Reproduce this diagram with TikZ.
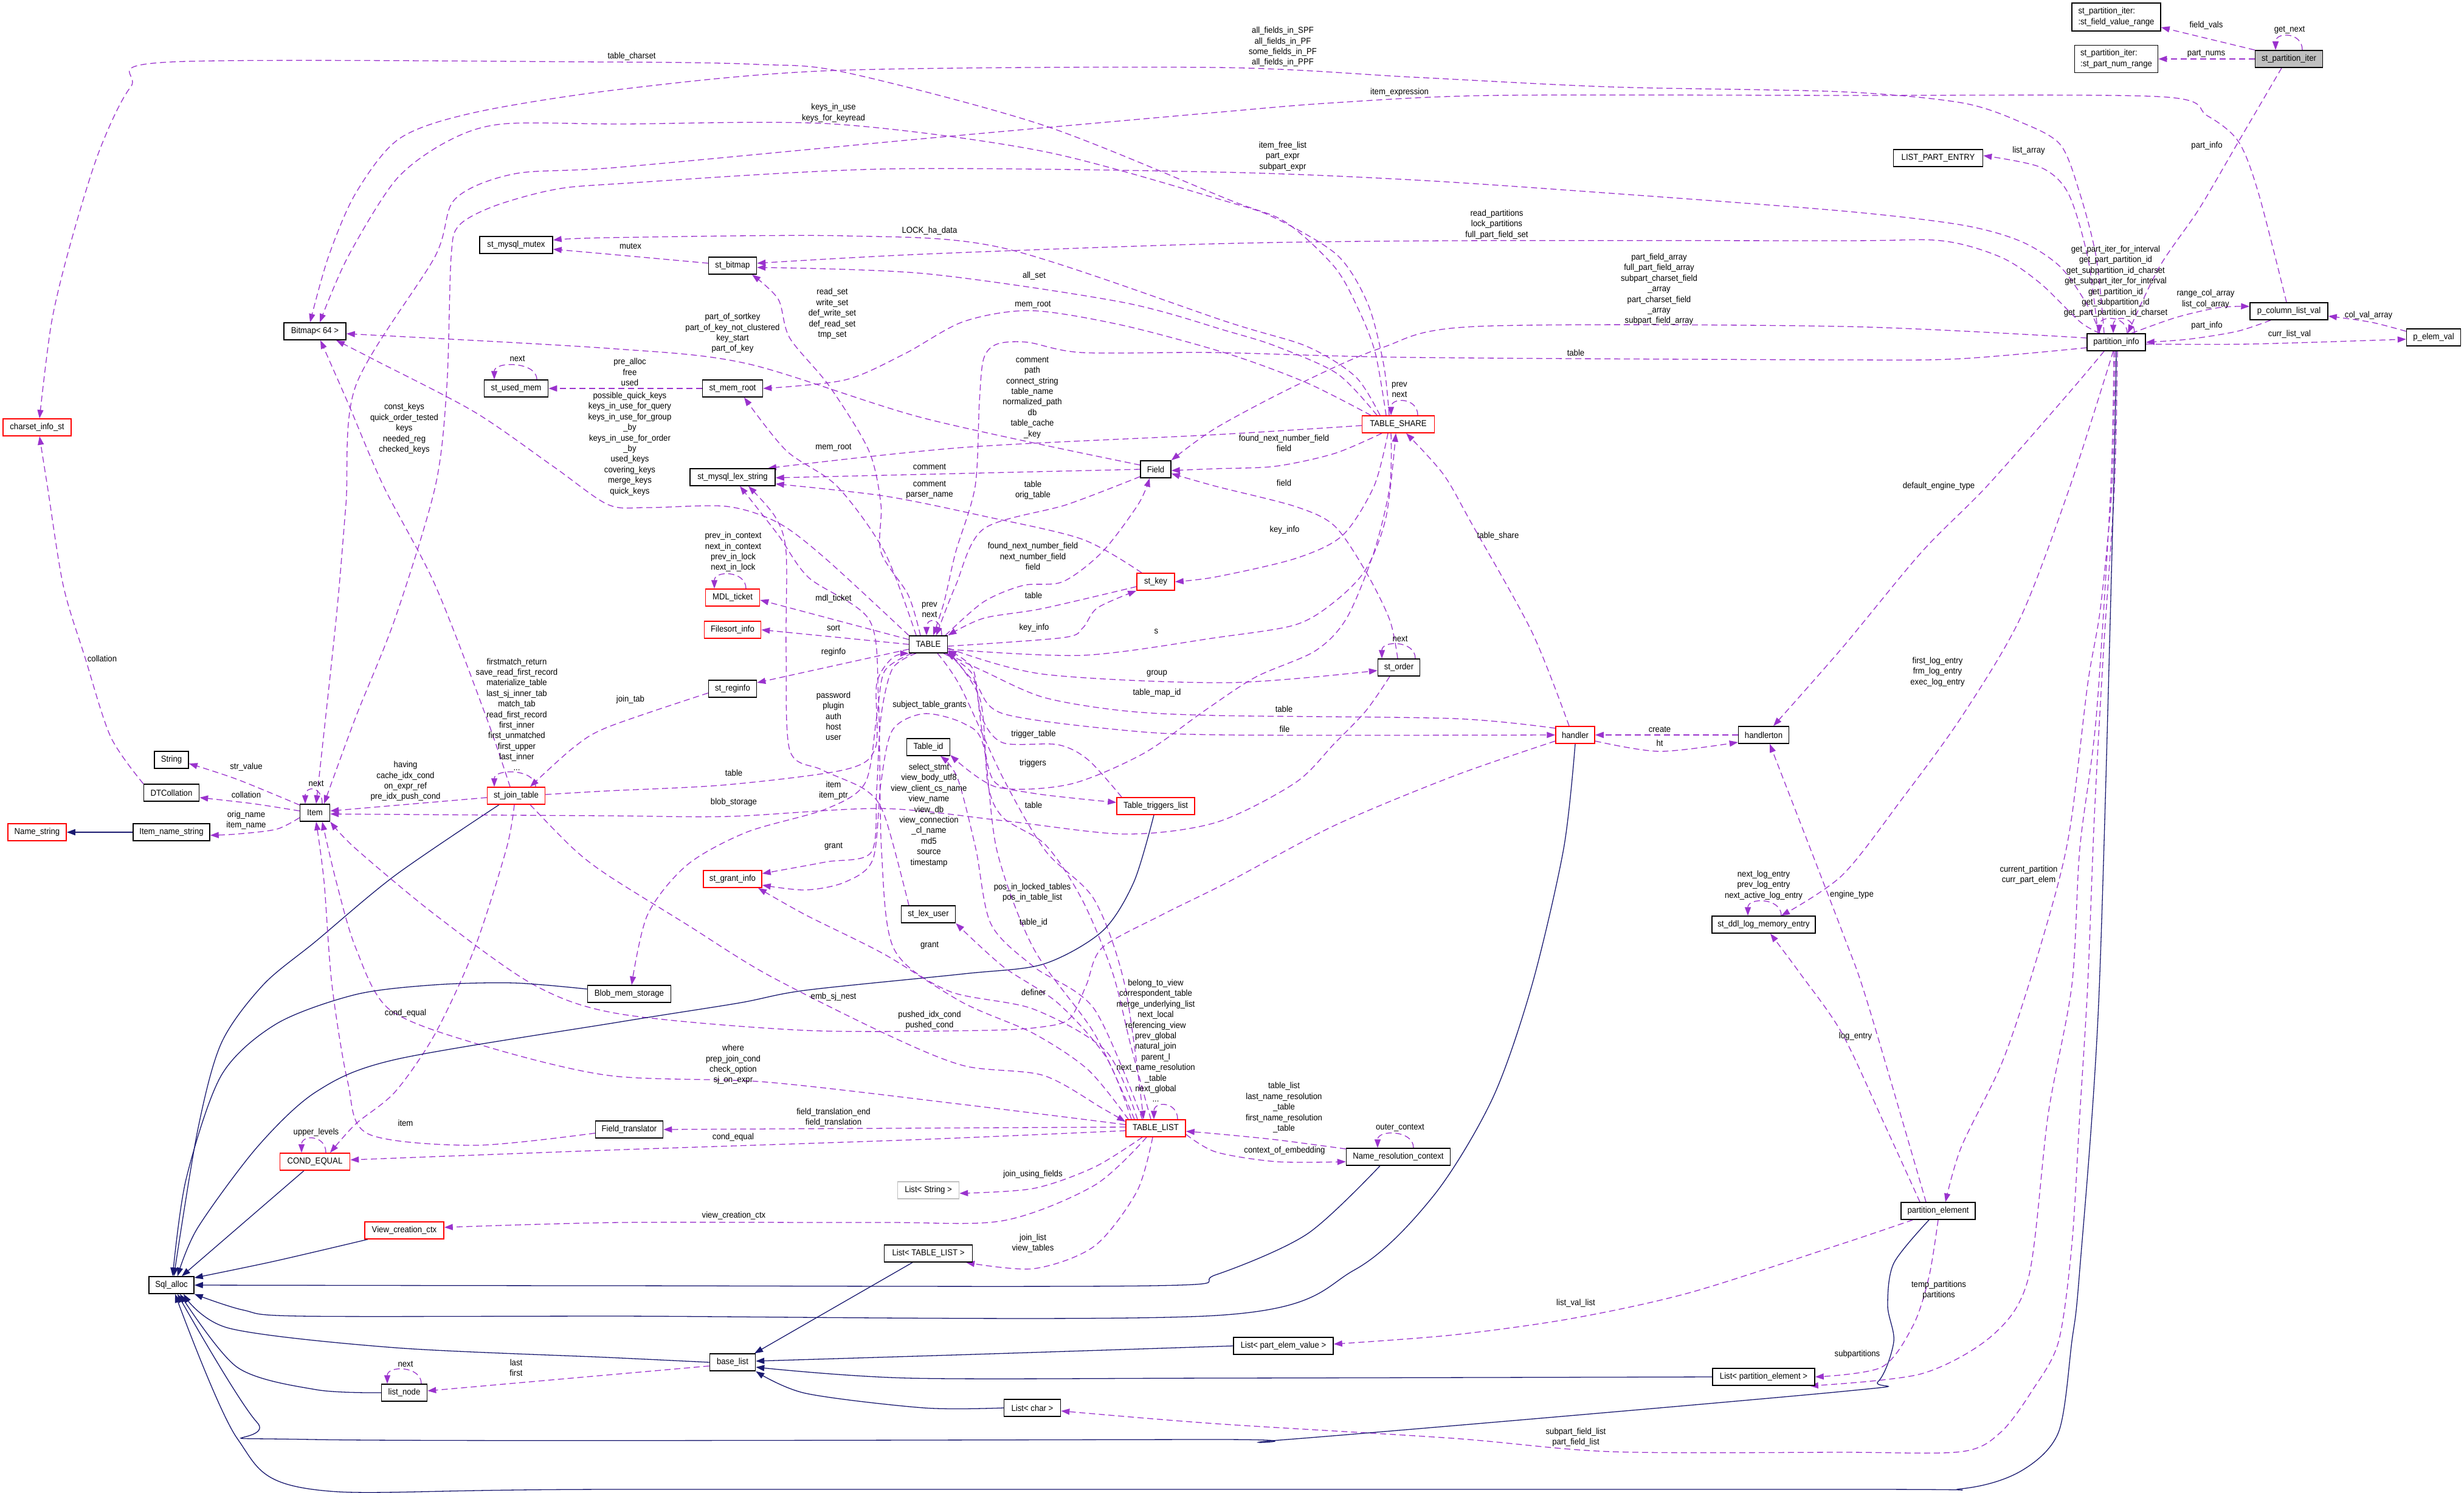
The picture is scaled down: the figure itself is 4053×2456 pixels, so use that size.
\documentclass[tikz,border=0pt]{standalone}
\usepackage{fontspec}
\setmainfont{Liberation Sans}[FakeStretch=0.92]
\usetikzlibrary{arrows.meta}
\definecolor{edgep}{HTML}{9A32CD}
\definecolor{edgen}{HTML}{191970}
\definecolor{boxgray}{HTML}{BFBFBF}
\pgfdeclarelayer{bg}
\pgfsetlayers{bg,main}
\newcommand\selfloopx[3]{\draw[dep] ([xshift=#2pt]#1.north) .. controls +(0,-30) and +(0,-30) .. ([xshift=#3pt]#1.north);}
\begin{document}
\begin{tikzpicture}[x=1pt,y=-1pt,
  font=\fontsize{14.3}{17.4}\selectfont,
  cls/.style={draw=black,line width=1.5pt,fill=white,minimum height=28pt,inner sep=1pt},
  redc/.style={cls,draw=red},
  lbl/.style={align=center,inner sep=0pt},
  dep/.style={draw=edgep,line width=1.3pt,dash pattern=on 10pt off 6pt,-{Triangle[length=14pt,width=10pt]}},
  inh/.style={draw=edgen,line width=1.3pt,-{Triangle[length=14pt,width=10pt]}}]
\useasboundingbox (0,0) rectangle (4053,2456);
% ---------------- nodes
\node[redc,minimum width=112pt] (charset) at (61,703) {charset\_info\_st};
\node[cls,minimum width=102pt] (bitmap) at (518,545) {Bitmap< 64 >};
\node[cls,minimum width=120pt] (mutex) at (849,403) {st\_mysql\_mutex};
\node[cls,minimum width=105pt] (usedmem) at (849,639) {st\_used\_mem};
\node[cls,minimum width=79pt] (stbitmap) at (1205,437) {st\_bitmap};
\node[cls,minimum width=99pt] (memroot) at (1205,639) {st\_mem\_root};
\node[cls,minimum width=140pt] (lexstr) at (1205,785) {st\_mysql\_lex\_string};
\node[cls,minimum width=50pt] (field) at (1901,772) {Field};
\node[redc,minimum width=119pt] (tshare) at (2300,698) {TABLE\_SHARE};
\node[cls,minimum width=146pt,minimum height=46pt,align=left] (fvr) at (3481,28) {st\_partition\_iter:\\:st\_field\_value\_range};
\node[cls,minimum width=137pt,minimum height=45pt,align=left] (pnr) at (3481,97) {st\_partition\_iter:\\:st\_part\_num\_range};
\node[cls,fill=boxgray,minimum width=111pt] (piter) at (3765,97) {st\_partition\_iter};
\node[cls,minimum width=147pt] (lpe) at (3188,260) {LIST\_PART\_ENTRY};
\node[cls,minimum width=128pt] (pclv) at (3765,512) {p\_column\_list\_val};
\node[cls,minimum width=96pt] (pinfo) at (3481,563) {partition\_info};
\node[cls,minimum width=89pt] (pelem) at (4003,555) {p\_elem\_val};
\node[cls,minimum width=56pt] (string) at (282,1250) {String};
\node[cls,minimum width=91pt] (dtcoll) at (282,1304) {DTCollation};
\node[redc,minimum width=96pt] (namestr) at (61,1369) {Name\_string};
\node[cls,minimum width=126pt] (itemname) at (282,1369) {Item\_name\_string};
\node[cls,minimum width=49pt] (item) at (518,1337) {Item};
\node[redc,minimum width=95pt] (jointab) at (849,1309) {st\_join\_table};
\node[redc,minimum width=89pt] (mdl) at (1205,983) {MDL\_ticket};
\node[redc,minimum width=93pt] (filesort) at (1205,1036) {Filesort\_info};
\node[cls,minimum width=63pt] (table) at (1527,1060) {TABLE};
\node[cls,minimum width=79pt] (reginfo) at (1205,1133) {st\_reginfo};
\node[redc,minimum width=62pt] (stkey) at (1901,957) {st\_key};
\node[cls,minimum width=71pt] (tableid) at (1527,1229) {Table\_id};
\node[redc,minimum width=128pt] (ttl) at (1901,1326) {Table\_triggers\_list};
\node[redc,minimum width=96pt] (grant) at (1205,1446) {st\_grant\_info};
\node[cls,minimum width=89pt] (lexuser) at (1527,1504) {st\_lex\_user};
\node[cls,minimum width=137pt] (blob) at (1035,1635) {Blob\_mem\_storage};
\node[cls,minimum width=69pt] (order) at (2301,1098) {st\_order};
\node[redc,minimum width=64pt] (handler) at (2591,1209) {handler};
\node[cls,minimum width=83pt] (hton) at (2901,1209) {handlerton};
\node[cls,minimum width=170pt] (ddl) at (2901,1521) {st\_ddl\_log\_memory\_entry};
\node[cls,minimum width=111pt] (ftrans) at (1035,1858) {Field\_translator};
\node[redc,minimum width=115pt] (condeq) at (518,1911) {COND\_EQUAL};
\node[redc,minimum width=130pt] (vcc) at (665,2024) {View\_creation\_ctx};
\node[cls,minimum width=74pt] (sqlalloc) at (282,2114) {Sql\_alloc};
\node[cls,minimum width=75pt] (listnode) at (665,2291) {list\_node};
\node[redc,minimum width=98pt] (tlist) at (1901,1856) {TABLE\_LIST};
\node[cls,draw=boxgray,minimum width=101pt] (lstring) at (1527,1958) {List< String >};
\node[cls,minimum width=145pt] (ltl) at (1527,2062) {List< TABLE\_LIST >};
\node[cls,minimum width=75pt] (baselist) at (1205,2241) {base\_list};
\node[cls,minimum width=93pt] (lchar) at (1698,2316) {List< char >};
\node[cls,minimum width=171pt] (nrc) at (2300,1903) {Name\_resolution\_context};
\node[cls,minimum width=164pt] (lpev) at (2111,2214) {List< part\_elem\_value >};
\node[cls,minimum width=168pt] (lpe2) at (2901,2265) {List< partition\_element >};
\node[cls,minimum width=122pt] (pelement) at (3188,1992) {partition\_element};
% ---------------- labels
\node[lbl] (l1) at (1039,93) {table\_charset};
\node[lbl] (l2) at (168,1083) {collation};
\node[lbl] (l3) at (2110,77) {all\_fields\_in\_SPF\\all\_fields\_in\_PF\\some\_fields\_in\_PF\\all\_fields\_in\_PPF};
\node[lbl] (l4) at (1371,186) {keys\_in\_use\\keys\_for\_keyread};
\node[lbl] (l5) at (1205,548) {part\_of\_sortkey\\part\_of\_key\_not\_clustered\\key\_start\\part\_of\_key};
\node[lbl] (l6) at (1036,730) {possible\_quick\_keys\\keys\_in\_use\_for\_query\\keys\_in\_use\_for\_group\\\_by\\keys\_in\_use\_for\_order\\\_by\\used\_keys\\covering\_keys\\merge\_keys\\quick\_keys};
\node[lbl] (l7) at (665,705) {const\_keys\\quick\_order\_tested\\keys\\needed\_reg\\checked\_keys};
\node[lbl] (l8) at (1529,380) {LOCK\_ha\_data};
\node[lbl] (l9) at (1037,405) {mutex};
\node[lbl] (l10) at (2462,369) {read\_partitions\\lock\_partitions\\full\_part\_field\_set};
\node[lbl] (l11) at (1701,454) {all\_set};
\node[lbl] (l12) at (1369,516) {read\_set\\write\_set\\def\_write\_set\\def\_read\_set\\tmp\_set};
\node[lbl] (l13) at (1036,612) {pre\_alloc\\free\\used};
\node[lbl] (l14) at (851,590) {next};
\node[lbl] (l15) at (1699,501) {mem\_root};
\node[lbl] (l16) at (1371,736) {mem\_root};
\node[lbl] (l17) at (1698,654) {comment\\path\\connect\_string\\table\_name\\normalized\_path\\db\\table\_cache\\\_key};
\node[lbl] (l18) at (1529,768) {comment};
\node[lbl] (l19) at (1529,806) {comment\\parser\_name};
\node[lbl] (l20) at (1371,1178) {password\\plugin\\auth\\host\\user};
\node[lbl] (l21) at (1528,1341) {select\_stmt\\view\_body\_utf8\\view\_client\_cs\_name\\view\_name\\view\_db\\view\_connection\\\_cl\_name\\md5\\source\\timestamp};
\node[lbl] (l22) at (2112,729) {found\_next\_number\_field\\field};
\node[lbl] (l23) at (2112,794) {field};
\node[lbl] (l24) at (2729,476) {part\_field\_array\\full\_part\_field\_array\\subpart\_charset\_field\\\_array\\part\_charset\_field\\\_array\\subpart\_field\_array};
\node[lbl] (l25) at (1699,806) {table\\orig\_table};
\node[lbl] (l26) at (1699,915) {found\_next\_number\_field\\next\_number\_field\\field};
\node[lbl] (l27) at (1700,979) {table};
\node[lbl] (l28) at (1701,1033) {key\_info};
\node[lbl] (l29) at (1902,1039) {s};
\node[lbl] (l30) at (2113,872) {key\_info};
\node[lbl] (l31) at (2464,882) {table\_share};
\node[lbl] (l32) at (1903,1140) {table\_map\_id};
\node[lbl] (l33) at (1700,1518) {table\_id};
\node[lbl] (l34) at (1700,1208) {trigger\_table};
\node[lbl] (l35) at (1699,1256) {triggers};
\node[lbl] (l36) at (1700,1324) {table};
\node[lbl] (l37) at (1698,1468) {pos\_in\_locked\_tables\\pos\_in\_table\_list};
\node[lbl] (l38) at (1371,985) {mdl\_ticket};
\node[lbl] (l39) at (1206,908) {prev\_in\_context\\next\_in\_context\\prev\_in\_lock\\next\_in\_lock};
\node[lbl] (l40) at (1371,1033) {sort};
\node[lbl] (l41) at (1371,1073) {reginfo};
\node[lbl] (l42) at (1037,1151) {join\_tab};
\node[lbl] (l43) at (850,1175) {firstmatch\_return\\save\_read\_first\_record\\materialize\_table\\last\_sj\_inner\_tab\\match\_tab\\read\_first\_record\\first\_inner\\first\_unmatched\\first\_upper\\last\_inner\\...};
\node[lbl] (l44) at (1207,1271) {table};
\node[lbl] (l45) at (1371,1640) {emb\_sj\_nest};
\node[lbl] (l46) at (667,1667) {cond\_equal};
\node[lbl] (l47) at (667,1285) {having\\cache\_idx\_cond\\on\_expr\_ref\\pre\_idx\_push\_cond};
\node[lbl] (l48) at (520,1289) {next};
\node[lbl] (l49) at (2302,152) {item\_expression};
\node[lbl] (l50) at (2110,257) {item\_free\_list\\part\_expr\\subpart\_expr};
\node[lbl] (l51) at (405,1262) {str\_value};
\node[lbl] (l52) at (405,1307) {collation};
\node[lbl] (l53) at (405,1349) {orig\_name\\item\_name};
\node[lbl] (l54) at (667,1847) {item};
\node[lbl] (l55) at (1206,1751) {where\\prep\_join\_cond\\check\_option\\sj\_on\_expr};
\node[lbl] (l56) at (1529,1678) {pushed\_idx\_cond\\pushed\_cond};
\node[lbl] (l57) at (1903,1108) {group};
\node[lbl] (l58) at (2303,1051) {next};
\node[lbl] (l59) at (1371,1300) {item\\item\_ptr};
\node[lbl] (l60) at (2112,1166) {table};
\node[lbl] (l61) at (2113,1199) {file};
\node[lbl] (l62) at (2730,1200) {create};
\node[lbl] (l63) at (2730,1222) {ht};
\node[lbl] (l64) at (3189,800) {default\_engine\_type};
\node[lbl] (l65) at (3046,1472) {engine\_type};
\node[lbl] (l66) at (3187,1105) {first\_log\_entry\\frm\_log\_entry\\exec\_log\_entry};
\node[lbl] (l67) at (2901,1456) {next\_log\_entry\\prev\_log\_entry\\next\_active\_log\_entry};
\node[lbl] (l68) at (3052,1705) {log\_entry};
\node[lbl] (l69) at (3337,1439) {current\_partition\\curr\_part\_elem};
\node[lbl] (l70) at (3189,2122) {temp\_partitions\\partitions};
\node[lbl] (l71) at (3055,2228) {subpartitions};
\node[lbl] (l72) at (2592,2364) {subpart\_field\_list\\part\_field\_list};
\node[lbl] (l73) at (2592,2144) {list\_val\_list};
\node[lbl] (l74) at (1901,1712) {belong\_to\_view\\correspondent\_table\\merge\_underlying\_list\\next\_local\\referencing\_view\\prev\_global\\natural\_join\\parent\_l\\next\_name\_resolution\\\_table\\next\_global\\...};
\node[lbl] (l75) at (1371,1838) {field\_translation\_end\\field\_translation};
\node[lbl] (l76) at (1206,1871) {cond\_equal};
\node[lbl] (l77) at (1699,1932) {join\_using\_fields};
\node[lbl] (l78) at (1207,2000) {view\_creation\_ctx};
\node[lbl] (l79) at (1699,2045) {join\_list\\view\_tables};
\node[lbl] (l80) at (2112,1822) {table\_list\\last\_name\_resolution\\\_table\\first\_name\_resolution\\\_table};
\node[lbl] (l81) at (2113,1893) {context\_of\_embedding};
\node[lbl] (l82) at (2303,1855) {outer\_context};
\node[lbl] (l83) at (1700,1632) {definer};
\node[lbl] (l84) at (1529,1555) {grant};
\node[lbl] (l85) at (1529,1160) {subject\_table\_grants};
\node[lbl] (l86) at (1371,1392) {grant};
\node[lbl] (l87) at (1207,1320) {blob\_storage};
\node[lbl] (l88) at (2302,641) {prev\\next};
\node[lbl] (l89) at (1529,1003) {prev\\next};
\node[lbl] (l90) at (520,1863) {upper\_levels};
\node[lbl] (l91) at (667,2244) {next};
\node[lbl] (l92) at (849,2250) {last\\first};
\node[lbl] (l93) at (3766,49) {get\_next};
\node[lbl] (l94) at (3629,42) {field\_vals};
\node[lbl] (l95) at (3629,88) {part\_nums};
\node[lbl] (l96) at (3630,240) {part\_info};
\node[lbl] (l97) at (3337,248) {list\_array};
\node[lbl] (l98) at (3628,492) {range\_col\_array\\list\_col\_array};
\node[lbl] (l99) at (3630,536) {part\_info};
\node[lbl] (l100) at (3766,550) {curr\_list\_val};
\node[lbl] (l101) at (3896,519) {col\_val\_array};
\node[lbl] (l102) at (3480,463) {get\_part\_iter\_for\_interval\\get\_part\_partition\_id\\get\_subpartition\_id\_charset\\get\_subpart\_iter\_for\_interval\\get\_partition\_id\\get\_subpartition\_id\\get\_part\_partition\_id\_charset};
\node[lbl] (l103) at (2592,580) {table};
% ---------------- edges
\begin{pgfonlayer}{bg}
\fill[white] (0,0) rectangle (4053,2456);
\draw[dep] plot[smooth] coordinates {([xshift=-20pt]tshare.north) (2262,580) (2234,508) (2195,439) (2114,365) (2020,328) (1716,206) (1390,119) (1247,106) (1000,102) (280,102) (215,143) (163,249) (117,397) (85,529) ([xshift=4pt]charset.north)};
\draw[dep] plot[smooth] coordinates {(dtcoll.north west) (182,1212) (140,1082) (104,963) (78,800) ([xshift=4pt]charset.south)};
\draw[dep] plot[smooth] coordinates {([xshift=-20pt]pinfo.north) (3448,423) (3421,318) (3389,238) (3324,201) (3226,169) (3030,151) (2650,143) (2325,127) (2000,111) (1371,116) (1020,147) (781,185) (657,228) (585,318) (540,423) ([xshift=-8pt]bitmap.north)};
\draw[dep] plot[smooth] coordinates {([xshift=-15pt]tshare.north) (2276,600) (2250,500) (2200,420) (2100,360) (2020,332) (1716,249) (1371,204) (1020,204) (826,204) (735,233) (651,296) (572,423) ([xshift=8pt]bitmap.north)};
\draw[dep] plot[smooth] coordinates {([yshift=7pt]field.west) (1520,688) (1228,598) (1000,573) ([yshift=-4pt]bitmap.east)};
\draw[dep] plot[smooth] coordinates {(table.north west) (1358,919) (1280,860) (1195,833) (1065,835) (1000,830) (911,768) (781,678) (618,593) ([xshift=35pt]bitmap.south)};
\draw[dep] plot[smooth] coordinates {([xshift=-10pt]jointab.north) (800,1180) (716,963) (631,800) (572,662) ([xshift=9pt]bitmap.south)};
\draw[dep] plot[smooth] coordinates {([xshift=-30pt]tshare.north) (2230,620) (2150,570) (2020,530) (1650,408) (1390,388) (1000,391) ([yshift=8pt]mutex.east)};
\draw[dep] plot[smooth] coordinates {([yshift=4pt]stbitmap.west) (1000,418) ([yshift=-7pt]mutex.east)};
\draw[dep] plot[smooth] coordinates {([xshift=-27pt]pinfo.north) (3421,529) (3356,466) (3291,423) (3193,396) (3030,396) (2390,396) (2000,401) (1520,418) ([yshift=4pt]stbitmap.east)};
\draw[dep] plot[smooth] coordinates {([xshift=-35pt]tshare.north) (2200,615) (2100,570) (2020,545) (1845,497) (1520,450) ([yshift=-3pt]stbitmap.east)};
\draw[dep] plot[smooth] coordinates {([xshift=-13pt]table.north) (1494,979) (1449,908) (1449,830) (1429,741) (1364,635) (1299,556) (1280,492) ([xshift=32pt]stbitmap.south)};
\draw[dep] (memroot.west) -- (usedmem.east);
\draw[dep] plot[smooth] coordinates {([xshift=-45pt]tshare.north) (2150,630) (2020,582) (1846,535) (1696,511) (1585,529) (1488,582) (1390,625) (memroot.east)};
\draw[dep] plot[smooth] coordinates {([xshift=-20pt]table.north) (1455,908) (1377,800) (1293,741) ([xshift=19pt]memroot.south)};
\draw[dep] plot[smooth] coordinates {([yshift=-2pt]tshare.west) (2000,715) (1585,736) ([xshift=58pt]lexstr.north)};
\draw[dep] (field.west) -- ([yshift=-1pt]lexstr.east);
\draw[dep] plot[smooth] coordinates {([xshift=-23pt]stkey.north) (1780,887) (1618,849) (1455,816) ([yshift=-11pt]lexstr.east)};
\draw[dep] plot[smooth] coordinates {([xshift=-32pt]lexuser.north) (1455,1342) (1423,1299) (1351,1266) (1299,1234) (1293,1070) (1293,908) (1275,850) ([xshift=26pt]lexstr.south)};
\draw[dep] plot[smooth] coordinates {([xshift=-30pt]tlist.north) (1820,1730) (1700,1660) (1560,1630) (1470,1560) (1450,1400) (1445,1150) (1430,1020) (1330,950) (1280,880) ([xshift=12pt]lexstr.south)};
\draw[dep] plot[smooth] coordinates {([xshift=-27pt]tshare.south) (2195,746) (2098,767) (2000,771) ([yshift=-2pt]field.east)};
\draw[dep] plot[smooth] coordinates {([xshift=-2pt]order.north) (2286,1020) (2247,941) (2195,865) (2130,833) (2000,800) ([yshift=-7pt]field.east)};
\draw[dep] plot[smooth] coordinates {([yshift=7pt]pinfo.west) (3030,537) (2429,537) (2273,572) (2130,635) (2000,704) (field.north east)};
\draw[dep] plot[smooth] coordinates {([yshift=-9pt]pinfo.west) (3226,590) (3030,592) (2325,588) (2000,580) (1780,580) (1690,563) (1640,566) (1618,590) (1611,660) (1604,800) (1572,908) (1553,990) ([xshift=8pt]table.north)};
\draw[dep] plot[smooth] coordinates {([yshift=-12pt]field.west) (1755,830) (1618,870) (1572,963) ([xshift=13pt]table.north)};
\draw[dep] plot[smooth] coordinates {([xshift=28pt]table.north) (1618,990) (1683,963) (1748,957) (1813,908) (1872,830) ([xshift=-10pt]field.south)};
\draw[dep] plot[smooth] coordinates {([yshift=-8pt]stkey.west) (1715,1001) (1618,1017) (table.north east)};
\draw[dep] plot[smooth] coordinates {([yshift=-3pt]table.east) (1748,1049) (1781,1033) (1805,1000) (stkey.south west)};
\draw[dep] plot[smooth] coordinates {([yshift=-8pt]table.east) (1781,1078) (2000,1049) (2130,1028) (2195,990) (2247,936) (2280,850) ([xshift=-4pt]tshare.south)};
\draw[dep] plot[smooth] coordinates {([xshift=-17pt]tshare.south) (2260,800) (2208,881) (2130,919) (2000,949) (stkey.east)};
\draw[dep] plot[smooth] coordinates {([xshift=-10pt]handler.north) (2520,1040) (2420,860) (2374,780) ([xshift=13pt]tshare.south)};
\draw[dep] plot[smooth] coordinates {([xshift=-12pt]tshare.south) (2286,800) (2260,908) (2215,1017) (2163,1071) (2065,1114) (1980,1170) (1880,1240) (1760,1290) (1640,1295) ([yshift=-13pt]tableid.east)};
\draw[dep] plot[smooth] coordinates {([xshift=-22pt]tlist.north) (1800,1660) (1700,1590) (1630,1520) (1605,1396) (1575,1280) ([xshift=20pt]tableid.south)};
\draw[dep] plot[smooth] coordinates {([xshift=-56pt]ttl.north) (1790,1250) (1740,1225) (1650,1222) (1615,1180) (1600,1100) ([yshift=-10pt]table.east)};
\draw[dep] plot[smooth] coordinates {([xshift=25pt]table.south) (1600,1110) (1615,1200) (1635,1285) (1700,1305) ([yshift=6pt]ttl.west)};
\draw[dep] plot[smooth] coordinates {([xshift=-8pt]tlist.north) (1860,1720) (1830,1600) (1780,1480) (1720,1390) (1650,1345) (1625,1290) (1612,1150) ([yshift=4pt]table.south east)};
\draw[dep] plot[smooth] coordinates {([xshift=15pt]table.south) (1580,1130) (1650,1280) (1720,1400) (1800,1480) (1850,1620) ([xshift=-20pt]tlist.north)};
\draw[dep] ([yshift=8pt]table.west) -- ([yshift=-4pt]mdl.east);
\draw[dep] (table.west) -- (filesort.east);
\draw[dep] ([yshift=-8pt]table.west) -- ([yshift=10pt]reginfo.east);
\draw[dep] plot[smooth] coordinates {([yshift=-7pt]reginfo.west) (1000,1196) (943,1230) ([xshift=23pt]jointab.north)};
\draw[dep] plot[smooth] coordinates {([yshift=2pt]jointab.east) (1000,1301) (1195,1291) (1390,1266) (1440,1230) (1442,1125) (1468,1082) (table.south west)};
\draw[dep] plot[smooth] coordinates {([xshift=23pt]jointab.south) (943,1396) (1000,1440) (1130,1521) (1260,1602) (1455,1700) (1585,1753) (1716,1769) (1813,1823) ([yshift=-4pt]tlist.north west)};
\draw[dep] plot[smooth] coordinates {([xshift=-3pt]jointab.south) (833,1396) (781,1559) (716,1700) (650,1796) (585,1849) ([xshift=25pt]condeq.north)};
\draw[dep] ([yshift=-3pt]jointab.west) -- ([yshift=3pt]item.east);
\draw[inh] plot[smooth] coordinates {([xshift=-28pt]jointab.south) (650,1440) (520,1548) (433,1620) (364,1716) (325,1860) ([xshift=4pt]sqlalloc.north)};
\draw[dep] plot[smooth] coordinates {([xshift=-4pt]pclv.north) (3715,318) (3682,233) (3630,190) (3552,159) (3030,157) (2455,157) (2195,169) (2000,185) (1520,228) (1020,275) (846,286) (748,328) (715,423) (585,635) (569,830) (553,1017) ([xshift=2pt]item.north)};
\draw[dep] plot[smooth] coordinates {([xshift=-27pt]pinfo.north) (3434,503) (3389,439) (3324,397) (3226,370) (3030,347) (2650,318) (2325,296) (2000,283) (1455,278) (1020,302) (911,312) (813,339) (755,371) (742,423) (735,635) (716,800) (650,1017) (585,1180) ([xshift=15pt]item.north)};
\draw[dep] plot[smooth] coordinates {([yshift=-2pt]item.north west) (390,1282) ([yshift=-6pt]string.east)};
\draw[dep] plot[smooth] coordinates {([yshift=3pt]item.west) (416,1322) ([yshift=-8pt]dtcoll.east)};
\draw[dep] plot[smooth] coordinates {([yshift=-8pt]item.west) (455,1364) (390,1372) ([yshift=-5pt]itemname.east)};
\draw[inh] (itemname.west) -- (namestr.east);
\draw[dep] plot[smooth] coordinates {([yshift=-6pt]ftrans.west) (781,1884) (605,1865) (572,1780) (546,1620) (533,1450) ([xshift=2pt]item.south)};
\draw[dep] plot[smooth] coordinates {([yshift=6pt]tlist.west) (1585,1817) (1260,1780) (1000,1769) (781,1716) (640,1660) (585,1559) (553,1450) ([xshift=12pt]item.south)};
\draw[dep] plot[smooth] coordinates {([yshift=-10pt]handler.west) (2390,1277) (2195,1358) (2020,1451) (1911,1505) (1813,1559) (1787,1620) (1760,1675) (1716,1689) (1618,1695) (1325,1695) (1020,1668) (878,1620) (716,1505) (585,1396) (item.south east)};
\draw[dep] plot[smooth] coordinates {([yshift=-6pt]table.east) (1716,1109) (2020,1123) ([yshift=-5pt]order.west)};
\draw[dep] plot[smooth] coordinates {([xshift=-15pt]order.south) (2247,1169) (2195,1223) (2130,1288) (2000,1353) (1850,1372) (1650,1350) (1450,1330) (1200,1343) (1000,1342) ([yshift=-2pt]item.east)};
\draw[dep] plot[smooth] coordinates {([yshift=11pt]handler.west) (2390,1182) (2000,1177) (1846,1169) (1716,1147) (1618,1104) ([xshift=-3pt]table.south east)};
\draw[dep] plot[smooth] coordinates {([yshift=-12pt]table.east) (1605,1125) (1650,1174) (1846,1201) (2020,1209) (handler.west)};
\draw[dep] (hton.west) -- (handler.east);
\draw[dep] plot[smooth] coordinates {([yshift=-10pt]handler.east) (2730,1236) ([yshift=-12pt]hton.west)};
\draw[inh] plot[smooth] coordinates {(handler.south) (2572,1396) (2520,1620) (2455,1807) (2358,1967) (2228,2089) (2000,2164) (1000,2165) (494,2165) (400,2155) (sqlalloc.south east)};
\draw[dep] plot[smooth] coordinates {([xshift=-20pt]pinfo.south) (3400,650) (3268,800) (3160,909) (3030,1066) ([xshift=16pt]hton.north)};
\draw[dep] plot[smooth] coordinates {([xshift=-20pt]pelement.north) (3072,1650) (3030,1532) ([xshift=10pt]hton.south)};
\draw[dep] plot[smooth] coordinates {([xshift=-5pt]pinfo.south) (3405,800) (3323,1017) (3226,1180) (3128,1315) (3030,1440) ([xshift=29pt]ddl.north)};
\draw[dep] plot[smooth] coordinates {([xshift=-30pt]pelement.north) (3100,1850) (3030,1700) (2960,1600) ([xshift=11pt]ddl.south)};
\draw[dep] plot[smooth] coordinates {([xshift=-2pt]pinfo.south) (3474,800) (3455,1000) (3434,1125) (3408,1342) (3386,1451) (3337,1620) (3291,1753) (3226,1887) ([xshift=12pt]pelement.north)};
\draw[dep] plot[smooth] coordinates {([xshift=-4pt]pinfo.south) (3472,800) (3448,1180) (3421,1396) (3408,1620) (3369,1833) (3337,2100) (3278,2196) (3160,2260) ([xshift=-9pt]lpe2.south east)};
\draw[dep] plot[smooth] coordinates {(pelement.south) (3173,2100) (3147,2180) (3095,2249) (lpe2.east)};
\draw[dep] plot[smooth] coordinates {([xshift=2pt]pinfo.south) (3478,800) (3460,1071) (3445,1342) (3434,1620) (3421,1833) (3408,2047) (3386,2207) (3343,2287) (3291,2356) (3226,2388) (3030,2389) (2650,2388) (2390,2366) (2000,2342) ([yshift=-5pt]lchar.east)};
\draw[inh] plot[smooth] coordinates {(pinfo.south) (3476,830) (3452,1650) (3420,2100) (3408,2206) (3386,2356) (3324,2420) (3226,2449) (3030,2450) (1020,2450) (514,2450) (390,2366) ([xshift=6pt]sqlalloc.south)};
\draw[inh] plot[smooth] coordinates {([xshift=-15pt]pelement.south) (3115,2078) (3105,2148) (3115,2207) (3089,2273) (3030,2289) (2117,2368) (2000,2368) (514,2368) (423,2340) ([xshift=10pt]sqlalloc.south)};
\draw[dep] plot[smooth] coordinates {([xshift=20pt]pelement.south west) (3030,2046) (2781,2126) (2585,2169) (2390,2196) ([yshift=3pt]lpev.east)};
\draw[inh] plot[smooth] coordinates {(lpev.west) (1600,2228) ([yshift=2pt]baselist.east)};
\draw[inh] plot[smooth] coordinates {(lpe2.west) (2000,2267) (1494,2267) ([yshift=-8pt]baselist.east)};
\draw[inh] plot[smooth] coordinates {(lchar.west) (1520,2316) (1325,2292) (baselist.south east)};
\draw[inh] ([xshift=-26pt]ltl.south) -- ([xshift=36pt]baselist.north);
\draw[inh] plot[smooth] coordinates {(baselist.west) (1000,2233) (650,2217) (377,2185) ([xshift=20pt]sqlalloc.south)};
\draw[inh] plot[smooth] coordinates {(listnode.west) (520,2286) (390,2249) ([xshift=14pt]sqlalloc.south)};
\draw[inh] plot[smooth] coordinates {([yshift=8pt]blob.west) (846,1617) (716,1620) (585,1636) (455,1684) (364,1769) (306,1940) ([xshift=2pt]sqlalloc.north)};
\draw[inh] plot[smooth] coordinates {([xshift=-3pt]ttl.south) (1865,1451) (1813,1532) (1716,1586) (1585,1602) (1325,1629) (1215,1650) (1020,1681) (650,1743) (520,1796) (423,1887) (325,2020) ([xshift=10pt]sqlalloc.north)};
\draw[inh] ([xshift=-18pt]condeq.south) -- ([xshift=17pt]sqlalloc.north);
\draw[inh] plot[smooth] coordinates {([xshift=-60pt]vcc.south) (450,2075) ([yshift=12pt]sqlalloc.east)};
\draw[inh] plot[smooth] coordinates {([xshift=-30pt]nrc.south) (2150,2030) (2000,2097) (1898,2115) (1000,2115) (sqlalloc.east)};
\draw[dep] ([yshift=2pt]tlist.west) -- (ftrans.east);
\draw[dep] plot[smooth] coordinates {([yshift=-4pt]tlist.west) (1500,1875) (1000,1892) ([yshift=3pt]condeq.east)};
\draw[dep] plot[smooth] coordinates {([xshift=-22pt]tlist.south) (1800,1920) (1700,1955) ([yshift=-5pt]lstring.east)};
\draw[dep] plot[smooth] coordinates {([xshift=-15pt]tlist.south) (1800,1950) (1650,2008) (1450,2011) (1020,2011) ([yshift=5pt]vcc.east)};
\draw[dep] plot[smooth] coordinates {([xshift=-5pt]tlist.south) (1870,1960) (1800,2050) (1700,2087) ([xshift=62pt]ltl.south)};
\draw[dep] plot[smooth] coordinates {([yshift=13pt]nrc.west) (2100,1875) (2000,1865) ([yshift=-5pt]tlist.east)};
\draw[dep] plot[smooth] coordinates {([yshift=-10pt]tlist.east) (2000,1895) (2100,1911) ([yshift=-8pt]nrc.west)};
\draw[dep] plot[smooth] coordinates {([xshift=-40pt]tlist.north) (1820,1740) (1740,1650) (1650,1590) (lexuser.south east)};
\draw[dep] plot[smooth] coordinates {([xshift=-45pt]tlist.north) (1790,1760) (1700,1700) (1585,1650) (1455,1570) (1325,1505) ([xshift=42pt]grant.south)};
\draw[dep] plot[smooth] coordinates {([xshift=-35pt]tlist.north) (1800,1700) (1700,1560) (1640,1400) (1618,1228) (1585,1190) (1520,1174) (1468,1201) (1449,1288) (1436,1413) (1390,1451) (1325,1464) ([yshift=-10pt]grant.east)};
\draw[dep] plot[smooth] coordinates {([xshift=-20pt]table.south) (1468,1100) (1449,1180) (1442,1300) (1433,1402) (1358,1418) ([yshift=9pt]grant.east)};
\draw[dep] plot[smooth] coordinates {([xshift=-27pt]table.south) (1455,1104) (1442,1180) (1423,1288) (1358,1331) (1228,1369) (1130,1423) (1065,1505) ([xshift=4pt]blob.north)};
\draw[dep] ([yshift=-6pt]baselist.west) -- ([yshift=3pt]listnode.east);
\draw[dep] (piter.north west) -- ([yshift=-17pt]fvr.east);
\draw[dep] (piter.west) -- (pnr.east);
\draw[dep] plot[smooth] coordinates {([xshift=-12pt]piter.south) (3682,233) (3617,344) (3552,439) ([xshift=19pt]pinfo.north)};
\draw[dep] plot[smooth] coordinates {([xshift=-30pt]pinfo.north) (3434,423) (3402,318) (3356,275) ([yshift=4pt]lpe.east)};
\draw[dep] plot[smooth] coordinates {([xshift=25pt]pinfo.north) (3580,522) (3650,506) ([yshift=8pt]pclv.west)};
\draw[dep] plot[smooth] coordinates {([xshift=-30pt]pclv.south) (3680,545) (3600,558) (pinfo.east)};
\draw[dep] plot[smooth] coordinates {([yshift=-3pt]pinfo.east) (3700,566) ([yshift=-3pt]pelem.west)};
\draw[dep] plot[smooth] coordinates {([yshift=10pt]pelem.west) (3900,530) ([yshift=-8pt]pclv.east)};
% self loops
\selfloopx{usedmem}{34}{-36}
\selfloopx{mdl}{22}{-30}
\selfloopx{jointab}{32}{-36}
\selfloopx{item}{12}{-16}
\selfloopx{order}{27}{-28}
\selfloopx{ddl}{29}{-26}
\selfloopx{tlist}{36}{-3}
\selfloopx{nrc}{25}{-34}
\selfloopx{condeq}{18}{-22}
\selfloopx{listnode}{28}{-28}
\selfloopx{piter}{22}{-22}
\selfloopx{tshare}{32}{-12}
\selfloopx{table}{22}{-3}
\selfloopx{pinfo}{18}{-28}
\selfloopx{pinfo}{30}{-5}
\end{pgfonlayer}
\end{tikzpicture}
\end{document}
